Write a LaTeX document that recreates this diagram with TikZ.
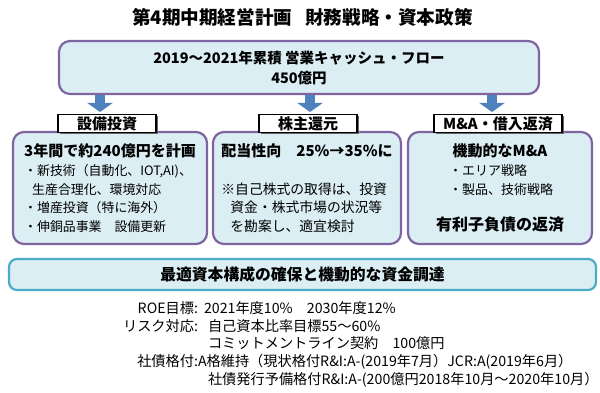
\documentclass[tikz,border=0pt]{standalone}
\usepackage{fontspec}
\setmainfont{Noto Sans CJK JP}
\usepackage{xcolor}
\usetikzlibrary{arrows.meta,positioning,shadows}

\definecolor{framepurple}{RGB}{128,100,162}
\definecolor{paleblue}{RGB}{219,238,244}
\definecolor{arrowblue}{RGB}{79,129,189}
\definecolor{bandteal}{RGB}{75,172,198}

\newcommand{\headfont}{\bfseries\fontsize{15}{18.5}\selectfont}

\begin{document}
\begin{tikzpicture}[
    x=1pt, y=-1pt,
    every node/.style={inner sep=0pt, outer sep=0pt},
    planbox/.style={rectangle, draw=framepurple, fill=paleblue, line width=2.2pt, rounded corners=11pt},
    tagbox/.style={rectangle, draw=black, fill=white, line width=1.2pt, minimum height=18pt, font=\bfseries\fontsize{15}{16}\selectfont, drop shadow={shadow xshift=1.6pt, shadow yshift=-1.6pt, fill=black!60, opacity=1}},
    fatarrow/.style={draw=arrowblue, line width=10pt, -{Triangle[width=25pt,length=9pt]}, shorten <=1.2pt, shorten >=2.5pt},
]
\useasboundingbox (0,0) rectangle (600,393);

% Title
\node[font=\bfseries\fontsize{18.6}{20}\selectfont] (title) at (302.5,17) {第4期中期経営計画\hspace{0.7em}財務戦略・資本政策};

% Cash flow source
\node[planbox, minimum width=480pt, minimum height=53pt, align=center, font=\bfseries\fontsize{14.5}{20}\selectfont] (cashflow) at (299,67.5) {2019～2021年累積 営業キャッシュ・フロー\\450億円};

% Three uses of cash
\node[planbox, minimum width=194pt, minimum height=112pt, align=left, font=\fontsize{12.9}{18.5}\selectfont] (capex) at (110,188) {{\headfont 3年間で約240億円を計画}\\[1pt]
・新技術（自動化、IOT,AI)、\\
\hspace*{8pt}生産合理化、環境対応\\
・増産投資（特に海外）\\
・伸銅品事業　設備更新};
\node[planbox, minimum width=188pt, minimum height=112pt, align=left, font=\fontsize{13.8}{18.5}\selectfont] (payout) at (307,188) {{\headfont 配当性向　25\%→35\%に}\\[19pt]
※自己株式の取得は、投資\\
\hspace*{9pt}資金・株式市場の状況等\\
\hspace*{9pt}を勘案し、適宜検討};
\node[planbox, minimum width=184pt, minimum height=112pt, align=center, font=\fontsize{13}{18.5}\selectfont] (mna) at (500,188) {{\headfont 機動的なM\&A}\\[1pt]
\makebox[102pt][l]{・エリア戦略}\\
\makebox[102pt][l]{・製品、技術戦略}\\[18pt]
{\bfseries\fontsize{16}{18.5}\selectfont 有利子負債の返済}};

% Tags on top of the boxes
\node[tagbox, minimum width=98pt] (capexTag) at (107,123.5) {設備投資};
\node[tagbox, minimum width=98pt] (payoutTag) at (308,123.5) {株主還元};
\node[tagbox, minimum width=128pt] (mnaTag) at (498,123.5) {M\&A・借入返済};

% Block arrows
\draw[fatarrow] (cashflow.south -| 100,0) -- (capexTag.north -| 100,0);
\draw[fatarrow] (cashflow.south -| 310,0) -- (payoutTag.north -| 310,0);
\draw[fatarrow] (cashflow.south -| 492,0) -- (mnaTag.north -| 492,0);

% Capital structure band
\node[planbox, draw=bandteal, rounded corners=8pt, minimum width=587pt, minimum height=31pt, font=\bfseries\fontsize{15.8}{18}\selectfont] (funding) at (302.5,274.5) {最適資本構成の確保と機動的な資金調達};

% Targets and ratings
\node[anchor=north east, align=right, font=\fontsize{14.2}{17.75}\selectfont] (targetKeys) at (198,301.5) {ROE目標:\\リスク対応:\\\mbox{}\\社債格付:\\\mbox{}};
\node[anchor=north west, align=left, font=\fontsize{14.2}{17.75}\selectfont] (targetVals) at (targetKeys.north east) {\hspace*{6pt}2021年度10\%　2030年度12\%\\
\hspace*{10pt}自己資本比率目標55～60\%\\
\hspace*{10pt}コミットメントライン契約　100億円\\
A格維持（現状格付R\&I:A-(2019年7月）JCR:A(2019年6月）\\
\hspace*{10pt}社債発行予備格付R\&I:A-(200億円2018年10月～2020年10月）};

\end{tikzpicture}
\end{document}
